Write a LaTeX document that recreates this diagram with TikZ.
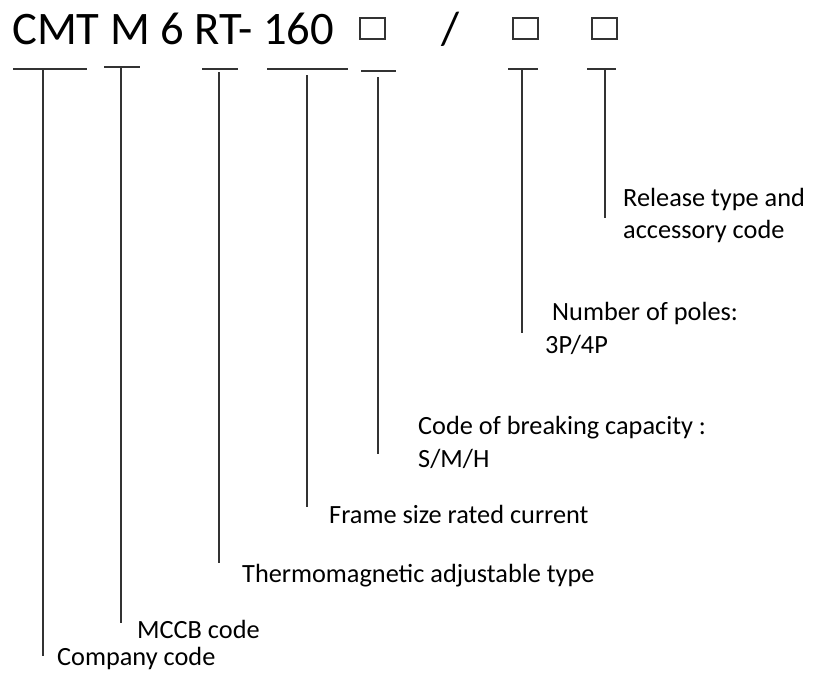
\documentclass[tikz,border=0pt]{standalone}
\usepackage{fontspec}
\setmainfont{Carlito}
\definecolor{ln}{HTML}{333333}
\begin{document}
\begin{tikzpicture}[x=1pt,y=-1pt,
  lbl/.style={anchor=base west,inner sep=0pt,font=\fontsize{26.3}{31}\selectfont,text=black},
  ttl/.style={anchor=base west,inner sep=0pt,font=\fontsize{46.6}{55}\selectfont,text=black},
  tick/.style={draw=ln,line width=1.3pt},
  lead/.style={draw=ln,line width=1.3pt},
  codebox/.style={draw=ln,line width=1.3pt,minimum width=25pt,minimum height=21pt,inner sep=0pt}]
\useasboundingbox[fill=white] (0,0) rectangle (821,672);

% title
\node[ttl] (title) at (12,44) {CMT M 6 RT- 160};
\node[codebox] (box1) at (372.5,28.5) {};
\node[ttl] (slash) at (441,44) {/};
\node[codebox] (box2) at (525.5,28.5) {};
\node[codebox] (box3) at (604.5,28.5) {};

% ticks
\coordinate (t1a) at (13,69);  \coordinate (t1b) at (87,69);
\coordinate (t2a) at (104,67); \coordinate (t2b) at (140,67);
\coordinate (t3a) at (202,69); \coordinate (t3b) at (238,69);
\coordinate (t4a) at (267,69); \coordinate (t4b) at (348,69);
\coordinate (t5a) at (361,71); \coordinate (t5b) at (396,71);
\coordinate (t6a) at (508,69); \coordinate (t6b) at (538,69);
\coordinate (t7a) at (587,69); \coordinate (t7b) at (616,69);
\foreach \i in {1,...,7} {\draw[tick] (t\i a) -- (t\i b);}

% leads
\coordinate (l1a) at (43,69);  \coordinate (l1b) at (43,656);
\coordinate (l2a) at (121,67); \coordinate (l2b) at (121,623);
\coordinate (l3a) at (219,72); \coordinate (l3b) at (219,563);
\coordinate (l4a) at (307,75); \coordinate (l4b) at (307,507);
\coordinate (l5a) at (378,77); \coordinate (l5b) at (378,454);
\coordinate (l6a) at (522,69); \coordinate (l6b) at (522,333);
\coordinate (l7a) at (605,69); \coordinate (l7b) at (605,218);
\foreach \i in {1,...,7} {\draw[lead] (l\i a) -- (l\i b);}

% labels
\node[lbl] (company) at (57,665) {Company code};
\node[lbl] (mccb) at (137,638) {MCCB code};
\node[lbl] (thermo) at (242,582) {Thermomagnetic adjustable type};
\node[lbl] (frame) at (329,523) {Frame size rated current};
\node[lbl] (break1) at (418,434) {Code of breaking capacity :};
\node[lbl] (break2) at (418,467) {S/M/H};
\node[lbl] (poles1) at (552,320) {Number of poles:};
\node[lbl] (poles2) at (545,353) {3P/4P};
\node[lbl] (rel1) at (623,206) {Release type and};
\node[lbl] (rel2) at (623,238) {accessory code};
\end{tikzpicture}
\end{document}
